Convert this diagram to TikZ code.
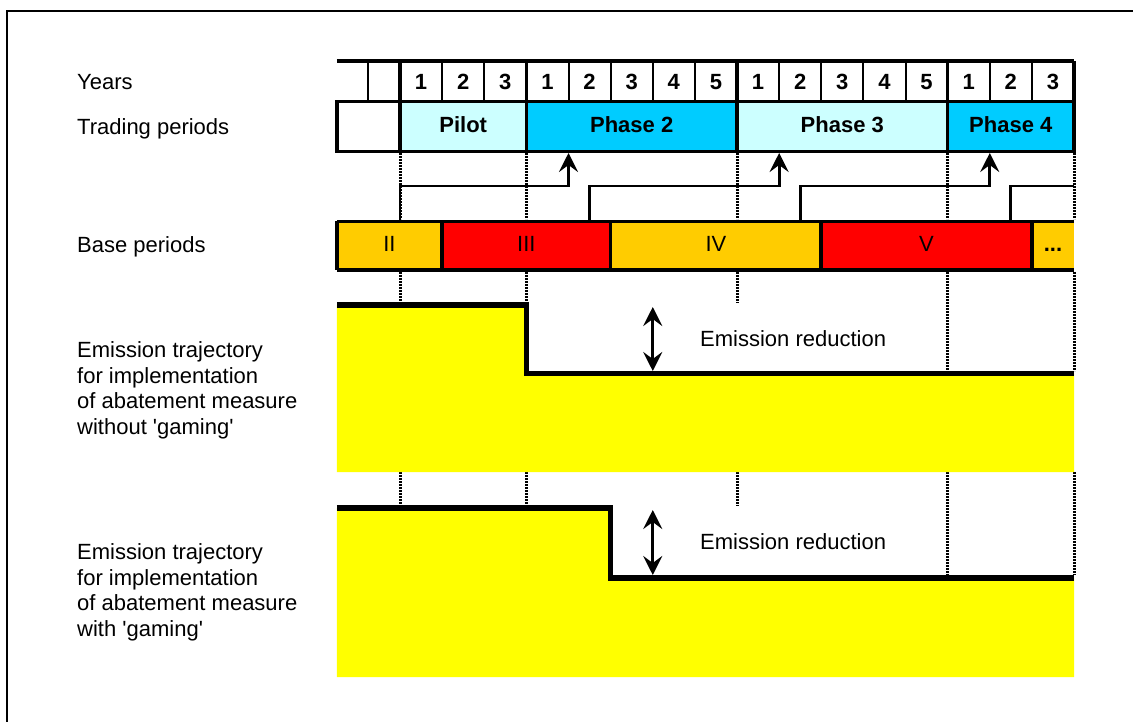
\documentclass[tikz,border=0pt]{standalone}
\usepackage{fontspec}
\setmainfont{Liberation Sans}
\usetikzlibrary{arrows.meta}

\definecolor{pilotcyan}{HTML}{CCFFFF}
\definecolor{phasecyan}{HTML}{00CCFF}
\definecolor{baseorange}{HTML}{FFCC00}
\definecolor{basered}{HTML}{FF0000}
\definecolor{trajyellow}{HTML}{FFFF00}
\def\yw{42.125}

\begin{document}
\begin{tikzpicture}[x=1pt, y=-1pt, >={Stealth[length=19pt, width=19pt, inset=7pt]}]
    \tikzstyle{every node}=[inner sep=0pt, font=\fontsize{22}{25.5}\selectfont]
    \tikzstyle{yearnum}=[anchor=base, font=\fontsize{22}{25.5}\selectfont\bfseries]
    \tikzstyle{period}=[text height=15.75pt, text depth=4pt]
    \tikzstyle{heavy}=[line width=3.6pt]
    \tikzstyle{light}=[line width=2pt]
    \tikzstyle{guide}=[line width=3pt, dash pattern=on 2pt off 1pt]
    \tikzstyle{link}=[line width=2.8pt]
    \tikzstyle{trajectory}=[line width=5.5pt]
    \tikzstyle{gaparrow}=[line width=3pt, <->]

    \useasboundingbox (0,0) rectangle (1133,722);
    \draw[line width=2.2pt] (7,722) -- (7,11) -- (1133,11);

    % row labels
    \node[anchor=base west] (lblyears) at (77,89.5) {Years};
    \node[anchor=base west] (lbltrading) at (77,135) {Trading periods};
    \node[anchor=base west] (lblbase) at (77,253) {Base periods};
    \node[anchor=north west, align=left] (lblnogame) at (77,341.5)
      {Emission trajectory\\for implementation\\of abatement measure\\without {\textquotesingle}gaming{\textquotesingle}};
    \node[anchor=north west, align=left] (lblgame) at (77,543.5)
      {Emission trajectory\\for implementation\\of abatement measure\\with {\textquotesingle}gaming{\textquotesingle}};

    \begin{scope}[x=\yw pt, xshift=400pt]
    % years
    \foreach \n [count=\i] in {1,2,3,1,2,3,4,5,1,2,3,4,5,1,2,3}
      \node[yearnum] (yr\i) at (\i-0.5,90) {\n};
    \foreach \x in {-0.75,1,2,4,5,6,7,9,10,11,12,14,15}
      \draw[light] (\x,61) -- (\x,101.5);

    % trading periods
    \foreach \a/\b/\c/\t/\n in {0/3/pilotcyan/Pilot/pilot, 3/8/phasecyan/Phase 2/phase2,
                               8/13/pilotcyan/Phase 3/phase3, 13/16/phasecyan/Phase 4/phase4}
      \node[period, fill=\c, minimum width={(\b-\a)*\yw*1pt}, minimum height=50pt,
            font=\fontsize{22}{25.5}\selectfont\bfseries] (\n) at ({(\a+\b)/2},126.5) {\t};
    \draw[heavy] (-1.5,61) -- (16,61);
    \draw[heavy] (-1.5,101.5) rectangle (16,151.5);
    \foreach \x in {0,3,8,13,16}
      \draw[heavy] (\x,61) -- (\x,151.5);

    % base periods
    \foreach \a/\b/\c/\t/\n in {-1.5/1/baseorange/II/II, 1/5/basered/III/III, 5/10/baseorange/IV/IV,
                               10/15/basered/V/V, 15/16/baseorange/\textbf{...}/more}
      \node[period, fill=\c, minimum width={(\b-\a)*\yw*1pt}, minimum height=48pt]
        (base\n) at ({(\a+\b)/2},246) {\t};
    \draw[heavy] (-1.5,221.5) -- (16,221.5);
    \draw[heavy] (-1.5,270) -- (16,270);
    \foreach \x in {-1.5,1,5,10,15}
      \draw[heavy] (\x,221.5) -- (\x,270);

    % guides
    \foreach \x in {0,3,8,13,16}
      \draw[guide] (\x,153.5) -- (\x,219.5);
    \foreach \x in {0,3,8}
      \draw[guide] (\x,272) -- (\x,303);
    \foreach \x in {13,16}
      \draw[guide] (\x,272) -- (\x,371);
    \foreach \x in {0,3,8}
      \draw[guide] (\x,472) -- (\x,506);
    \foreach \x in {13,16}
      \draw[guide] (\x,472) -- (\x,575);

    % links from base periods to trading periods
    \foreach \a/\b [count=\k] in {0/4, 4.5/9, 9.5/14} {
      \coordinate (src\k) at (\a,223);
      \coordinate (dst\k) at (\b,153);
      \draw[link, ->] (src\k) |- (\b,186) -- (dst\k);
    }
    \coordinate (src4) at (14.5,223);
    \coordinate (dst4) at (16,186);
    \draw[link] (src4) |- (dst4);

    % trajectories
    \fill[trajyellow] (-1.5,305) -- (3,305) -- (3,373.5) -- (16,373.5) -- (16,472) -- (-1.5,472) -- cycle;
    \draw[trajectory] (-1.5,305) -| (3,373.5) -- (16,373.5);
    \fill[trajyellow] (-1.5,508) -- (5,508) -- (5,578) -- (16,578) -- (16,677) -- (-1.5,677) -- cycle;
    \draw[trajectory] (-1.5,508) -| (5,578) -- (16,578);

    \coordinate (gap1top) at (6,307);
    \coordinate (gap1bot) at (6,371);
    \coordinate (gap2top) at (6,510);
    \coordinate (gap2bot) at (6,575);
    \draw[gaparrow] (gap1top) -- (gap1bot);
    \draw[gaparrow] (gap2top) -- (gap2bot);
    \end{scope}

    \node[anchor=base west] (gapnote1) at (700,346) {Emission reduction};
    \node[anchor=base west] (gapnote2) at (700,549) {Emission reduction};
\end{tikzpicture}
\end{document}
